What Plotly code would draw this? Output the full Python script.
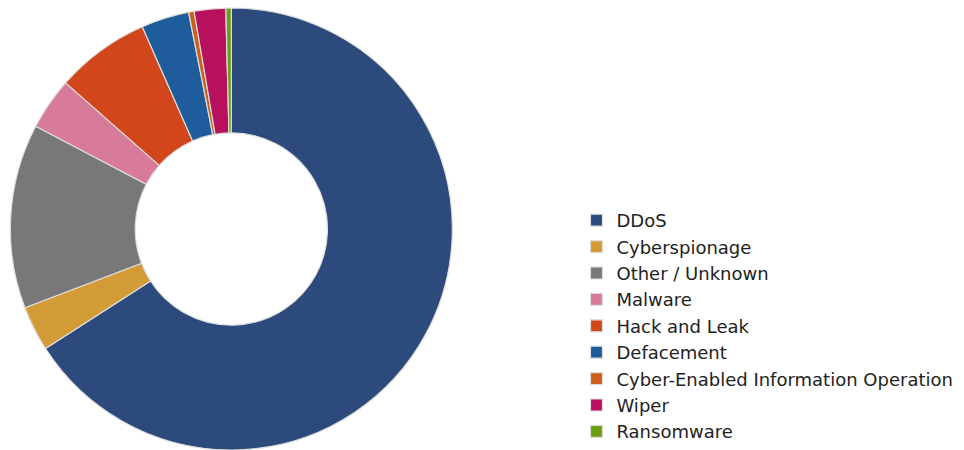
import plotly.graph_objects as go

labels = ["DDoS", "Cyberspionage", "Other / Unknown", "Malware", "Hack and Leak",
          "Defacement", "Cyber-Enabled Information Operation", "Wiper", "Ransomware"]
values = [65.9, 3.3, 13.5, 3.8, 6.9, 3.5, 0.4, 2.3, 0.4]
colors = ["#2c4a7c", "#d39b35", "#787878", "#d87b9b", "#d2461b",
          "#1f5c9c", "#cc5f1a", "#b8105c", "#6c9e12"]

fig = go.Figure(go.Pie(
    labels=labels, values=values, hole=0.435, sort=False, direction="clockwise",
    rotation=0, textinfo="none", textposition="none", hoverinfo="label+percent",
    automargin=False,
    marker=dict(colors=colors, line=dict(color="#dedede", width=1.2)),
    domain=dict(x=[0, 0.48], y=[0, 1]),
))
fig.update_layout(
    width=964, height=450,
    margin=dict(l=0, r=0, t=8, b=0),
    paper_bgcolor="white", plot_bgcolor="white",
    font=dict(family="DejaVu Sans", size=18, color="#222222"),
    legend=dict(x=0.598, y=0, xanchor="left", yanchor="bottom",
                bgcolor="rgba(0,0,0,0)", font=dict(size=18)),
    showlegend=True,
)
fig.write_html("out.html")
